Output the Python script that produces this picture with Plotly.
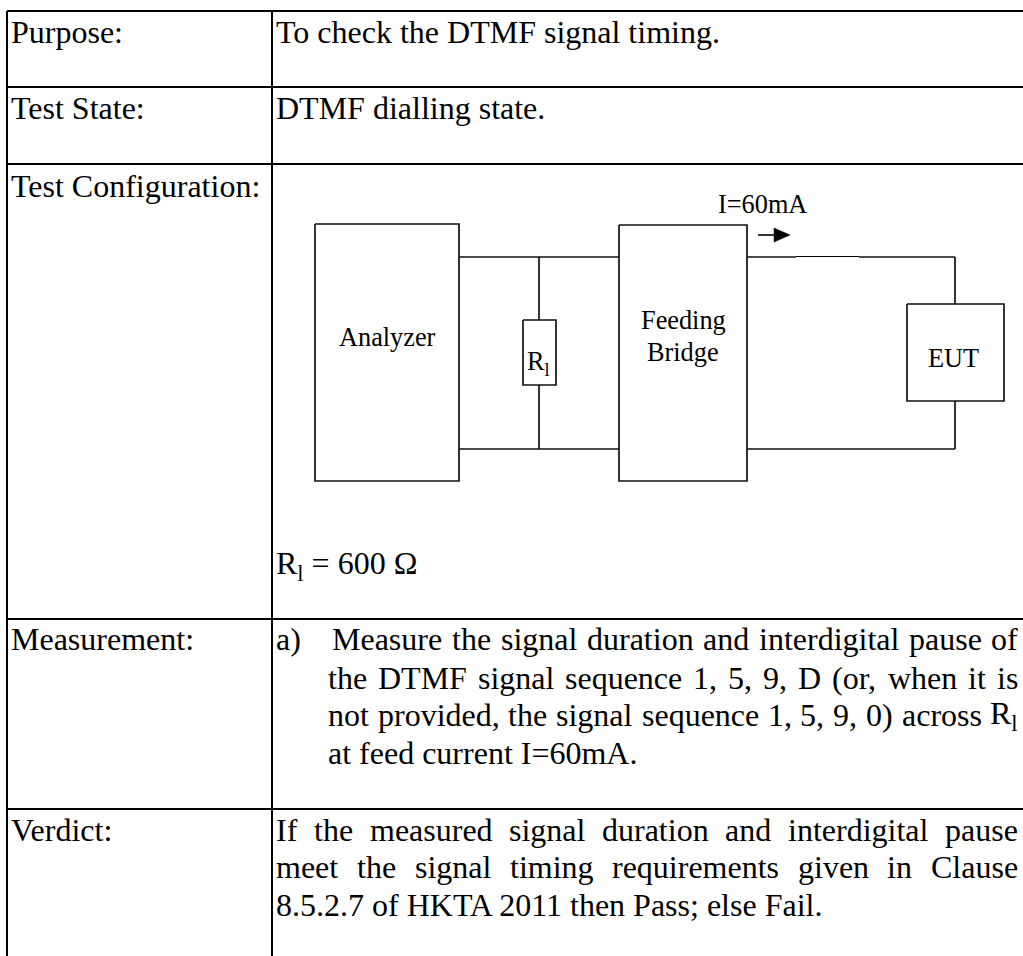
import plotly.graph_objects as go

# ---- page data (pixel-like diagram units) ----
FONT = "Liberation Serif"
BODY = 32
DIAG = 26.3
W, H = 1023, 956

TABLE_ROWS_Y = [11, 87, 164, 619, 809]
TABLE_COLS_X = [7, 272]
BOXES = {"analyzer": [315, 459, 224, 481], "bridge": [619, 747, 225, 481],
         "resistor": [523, 556, 320, 385], "eut": [907, 1004, 304, 401]}
WIRES_X = [[459, 619], [459, 619], [539, 539], [539, 539],
           [747, 796], [859, 955], [955, 955], [955, 955], [747, 955]]
WIRES_Y = [[257, 257], [449, 449], [257, 320], [385, 449],
           [257, 257], [257, 257], [257, 304], [401, 449], [449, 449]]
THIN_X, THIN_Y = [796, 859], [256.5, 256.5]
ARROW_X, ARROW_Y = [758, 776], [235, 235]
HEAD_X, HEAD_Y = [774, 790, 774, 774], [228, 235, 242, 228]

# label, x, baseline
LABELS = [("Purpose:", 11, 41), ("Test State:", 11, 117), ("Test Configuration:", 11, 195),
          ("Measurement:", 11, 648), ("Verdict:", 11, 839),
          ("To check the DTMF signal timing.", 276, 41), ("DTMF dialling state.", 276, 117),
          ("R<sub>l</sub> = 600 Ω", 276, 574), ("a)", 276, 648),
          ("at feed current I=60mA.", 328, 762), ("8.5.2.7 of HKTA 2011 then Pass; else Fail.", 276, 914)]
# line words, left, right, baseline
JUSTIFIED = [("Measure the signal duration and interdigital pause of", 332, 1018, 648),
             ("the DTMF signal sequence 1, 5, 9, D (or, when it is", 328, 1018, 687),
             ("not provided, the signal sequence 1, 5, 9, 0) across R<sub>l</sub>", 328, 1018, 724),
             ("If the measured signal duration and interdigital pause", 276, 1018, 839),
             ("meet the signal timing requirements given in Clause", 276, 1018, 876)]
# diagram label, centre x, baseline
DIAGRAM = [("I=60mA", 762, 212), ("Analyzer", 387, 345), ("Feeding", 683, 328), ("Bridge", 683, 360),
           ("EUT", 953, 366), ("R<sub>l</sub>", 538, 371)]

TIMES = {" ": .25, ",": .25, ".": .25, ";": .278, ":": .278, "(": .333, ")": .333, "=": .564, "f": .333, "i": .278,
         "j": .278, "l": .278, "t": .278, "r": .333, "s": .389, "a": .444, "c": .444, "e": .444, "z": .444, "m": .778,
         "w": .722, "I": .333, "D": .722, "T": .611, "M": .889, "F": .556, "R": .667, "C": .667, "A": .722}


def width(word, size):
    if word == "R<sub>l</sub>":
        return (.667 + .278 * .7) * size
    return sum(TIMES.get(c, .5) for c in word) * size


def box_path(b):
    return [b[0], b[1], b[1], b[0], b[0], None], [b[2], b[2], b[3], b[3], b[2], None]


def segments(xs, ys):
    ox, oy = [], []
    for a, b in zip(xs, ys):
        ox += a + [None]
        oy += b + [None]
    return ox, oy


fig = go.Figure()
INK = "#000000"

tx, ty = segments([[TABLE_COLS_X[0], W]] * len(TABLE_ROWS_Y) + [[c, c] for c in TABLE_COLS_X],
                  [[y, y] for y in TABLE_ROWS_Y] + [[TABLE_ROWS_Y[0], H]] * len(TABLE_COLS_X))
fig.add_trace(go.Scatter(x=tx, y=ty, mode="lines", line=dict(color=INK, width=2)))

bx, by = [], []
for b in BOXES.values():
    p = box_path(b)
    bx += p[0]
    by += p[1]
wx, wy = segments(WIRES_X, WIRES_Y)
fig.add_trace(go.Scatter(x=bx + wx + ARROW_X, y=by + wy + ARROW_Y, mode="lines",
                         line=dict(color="#111111", width=1.7)))
fig.add_trace(go.Scatter(x=THIN_X, y=THIN_Y, mode="lines", line=dict(color=INK, width=1)))
fig.add_trace(go.Scatter(x=HEAD_X, y=HEAD_Y, mode="lines", fill="toself", fillcolor=INK,
                         line=dict(color=INK, width=0.5)))


def put(text, x, base, size, anchor="left"):
    fig.add_annotation(x=x, y=base - 0.27 * size, text=text, showarrow=False, xanchor=anchor, yanchor="middle",
                       xref="x", yref="y", borderpad=0, borderwidth=0,
                       font=dict(family=FONT, size=size, color=INK))


for t, x, b in LABELS:
    put(t, x, b, BODY)
for line, left, right, b in JUSTIFIED:
    words = line.split(" ")
    gap = (right - left - sum(width(w, BODY) for w in words)) / (len(words) - 1)
    x = left
    for w in words:
        put(w, x, b, BODY)
        x += width(w, BODY) + gap
for t, x, b in DIAGRAM:
    put(t, x, b, DIAG, "center")

fig.update_layout(width=W, height=H, margin=dict(l=0, r=0, t=0, b=0), showlegend=False,
                  paper_bgcolor="white", plot_bgcolor="white",
                  xaxis=dict(range=[0, W], visible=False, fixedrange=True),
                  yaxis=dict(range=[H, 0], visible=False, fixedrange=True))
fig.write_html("out.html", config={"displayModeBar": False},
               post_script="document.body.style.margin='0';document.body.style.overflow='hidden';")
